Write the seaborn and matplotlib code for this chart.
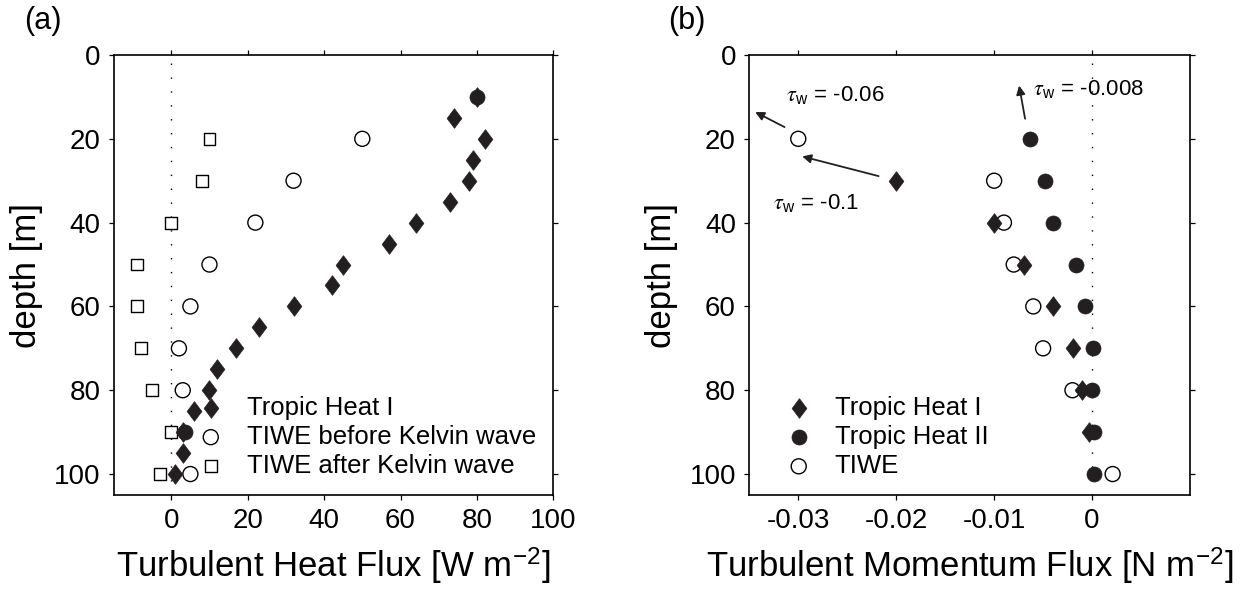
import matplotlib
matplotlib.use("Agg")
import matplotlib.pyplot as plt
import seaborn as sns
import numpy as np
from matplotlib.path import Path

# ---------------- data ----------------
# Panel (a): turbulent heat flux [W m-2] vs depth [m]
th1_depth_a = [10, 15, 20, 25, 30, 35, 40, 45, 50, 55, 60, 65, 70, 75, 80, 85, 90, 95, 100]
th1_flux_a = [80, 74, 82, 79, 78, 73, 64, 57, 45, 42, 32, 23, 17, 12, 10, 6, 3, 3, 1]

tiwe_before_depth = [20, 30, 40, 50, 60, 70, 80, 100]
tiwe_before_flux = [50, 32, 22, 10, 5, 2, 3, 5]

tiwe_after_depth = [20, 30, 40, 50, 60, 70, 80, 90, 100]
tiwe_after_flux = [10, 8, 0, -9, -9, -8, -5, 0, -3]

extra_depth_a = [10, 90]
extra_flux_a = [80, 3.5]

# Panel (b): turbulent momentum flux [N m-2] vs depth [m]
th1_depth_b = [30, 40, 50, 60, 70, 80, 90]
th1_flux_b = [-0.020, -0.010, -0.0070, -0.0040, -0.0019, -0.0010, -0.0003]

th2_depth_b = [20, 30, 40, 50, 60, 70, 80, 90, 100]
th2_flux_b = [-0.0063, -0.0048, -0.0040, -0.0016, -0.0007, 0.0001, 0.0, 0.0002, 0.0002]

tiwe_depth_b = [20, 30, 40, 50, 60, 70, 80, 100]
tiwe_flux_b = [-0.030, -0.010, -0.0090, -0.0080, -0.0060, -0.0050, -0.0020, 0.0021]

xticks_a = [0, 20, 40, 60, 80, 100]
xticks_b = [-0.03, -0.02, -0.01, 0]
xticklabels_b = ["-0.03", "-0.02", "-0.01", "0"]
yticks = [0, 20, 40, 60, 80, 100]

# ---------------- style ----------------
sns.set_theme(style="ticks")
plt.rcParams["font.family"] = ["Liberation Sans", "DejaVu Sans"]
plt.rcParams["axes.unicode_minus"] = False
plt.rcParams["mathtext.fontset"] = "stix"
for k in ("text.color", "axes.labelcolor", "xtick.color", "ytick.color",
          "xtick.labelcolor", "ytick.labelcolor", "axes.edgecolor"):
    plt.rcParams[k] = "black"

INK = "#231f20"
diamond = Path([(0, 1), (0.75, 0), (0, -1), (-0.75, 0), (0, 1)],
               [Path.MOVETO, Path.LINETO, Path.LINETO, Path.LINETO, Path.CLOSEPOLY])

fig = plt.figure(figsize=(12.42, 5.96), dpi=100)
W, H = 1242, 596
axA = fig.add_axes([114 / W, 101 / H, 439.3 / W, 440 / H])
axB = fig.add_axes([749.3 / W, 101 / H, 440.7 / W, 440 / H])

S_D = 200   # diamond
S_O = 117   # circle
S_S = 74    # square


def open_scatter(ax, x, y, marker, s, label=None):
    sns.scatterplot(x=x, y=y, ax=ax, marker=marker, s=s, color="white",
                    edgecolor="black", linewidth=1.0, label=label, legend=False, zorder=3)
    ax.collections[-1].set_facecolor("none")
    ax.collections[-1].set_edgecolor("black")


def filled_scatter(ax, x, y, marker, s, label=None, z=4):
    sns.scatterplot(x=x, y=y, ax=ax, marker=marker, s=s, color=INK,
                    edgecolor=INK, linewidth=0.5, label=label, legend=False, zorder=z)


# ---- panel (a) ----
open_scatter(axA, tiwe_after_flux, tiwe_after_depth, "s", S_S)
open_scatter(axA, tiwe_before_flux, tiwe_before_depth, "o", S_O)
filled_scatter(axA, extra_flux_a, extra_depth_a, "o", S_O, z=4)
filled_scatter(axA, th1_flux_a, th1_depth_a, diamond, S_D, z=5)
axA.axvline(0, color="black", lw=1.0, linestyle=(0, (1, 9)), zorder=1)

axA.set_xlim(-15, 100)
axA.set_ylim(105, 0)
axA.set_xticks(xticks_a)
axA.set_yticks(yticks)

leg_kw = dict(loc="center left", frameon=False, fontsize=18.5, handlelength=1.0,
              handletextpad=0.9, labelspacing=0.2, borderpad=0, borderaxespad=0,
              scatterpoints=1)

hA = [
    axA.scatter([], [], marker=diamond, s=S_D, color=INK, linewidths=0.5),
    axA.scatter([], [], marker="o", s=S_O, facecolors="none", edgecolors="black", linewidths=1.0),
    axA.scatter([], [], marker="s", s=S_S, facecolors="none", edgecolors="black", linewidths=1.0),
]
axA.legend(hA, ["Tropic Heat I", "TIWE before Kelvin wave", "TIWE after Kelvin wave"],
           bbox_to_anchor=(0.191, 0.132), **leg_kw)

# ---- panel (b) ----
open_scatter(axB, tiwe_flux_b, tiwe_depth_b, "o", S_O)
filled_scatter(axB, th1_flux_b, th1_depth_b, diamond, S_D, z=4)
filled_scatter(axB, th2_flux_b, th2_depth_b, "o", S_O, z=5)
axB.axvline(0, color="black", lw=1.0, linestyle=(0, (1, 9)), zorder=1)

axB.set_xlim(-0.035, 0.01)
axB.set_ylim(105, 0)
axB.set_xticks(xticks_b)
axB.set_xticklabels(xticklabels_b)
axB.set_yticks(yticks)

hB = [
    axB.scatter([], [], marker=diamond, s=S_D, color=INK, linewidths=0.5),
    axB.scatter([], [], marker="o", s=S_O, color=INK, linewidths=0.5),
    axB.scatter([], [], marker="o", s=S_O, facecolors="none", edgecolors="black", linewidths=1.0),
]
axB.legend(hB, ["Tropic Heat I", "Tropic Heat II", "TIWE"],
           bbox_to_anchor=(0.083, 0.132), **leg_kw)

# annotations in (b)
arrow_kw = dict(arrowstyle="-|>", lw=1.3, color=INK, mutation_scale=13, shrinkA=0, shrinkB=0)
axB.annotate("", xy=(-0.0344, 13.6), xytext=(-0.0314, 17.2), arrowprops=arrow_kw)
axB.annotate("", xy=(-0.0296, 24.2), xytext=(-0.0218, 28.9), arrowprops=arrow_kw)
axB.annotate("", xy=(-0.00745, 7.3), xytext=(-0.00684, 15.2), arrowprops=arrow_kw)
tkw = dict(fontsize=16, va="center", ha="left", color="black")
axB.text(-0.03125, 9.6, r"$\tau_{\mathregular{w}}$" + " = -0.06", **tkw)
axB.text(-0.03262, 35.4, r"$\tau_{\mathregular{w}}$" + " = -0.1", **tkw)
axB.text(-0.00608, 8.1, r"$\tau_{\mathregular{w}}$" + " = -0.008", **tkw)

# ---- common axes styling ----
for ax in (axA, axB):
    for sp in ax.spines.values():
        sp.set_color("black")
        sp.set_linewidth(1.2)
    ax.tick_params(axis="both", which="both", direction="out", length=3.6, width=0.9,
                   labelsize=20, pad=6, top=True, right=True, color="black",
                   labelcolor="black")
    ax.set_ylabel("depth [m]", fontsize=25, labelpad=8, color="black")
    ax.grid(False)

axA.set_xlabel(r"Turbulent Heat Flux [W m$^{\mathregular{-2}}$]", fontsize=25, labelpad=8,
               color="black")
axB.set_xlabel(r"Turbulent Momentum Flux [N m$^{\mathregular{-2}}$]", fontsize=25, labelpad=8,
               color="black")

fig.text(24 / W, 1 - 21 / H, "(a)", fontsize=22, va="center", ha="left")
fig.text(668 / W, 1 - 21 / H, "(b)", fontsize=22, va="center", ha="left")

fig.savefig("out.png", dpi=100)
